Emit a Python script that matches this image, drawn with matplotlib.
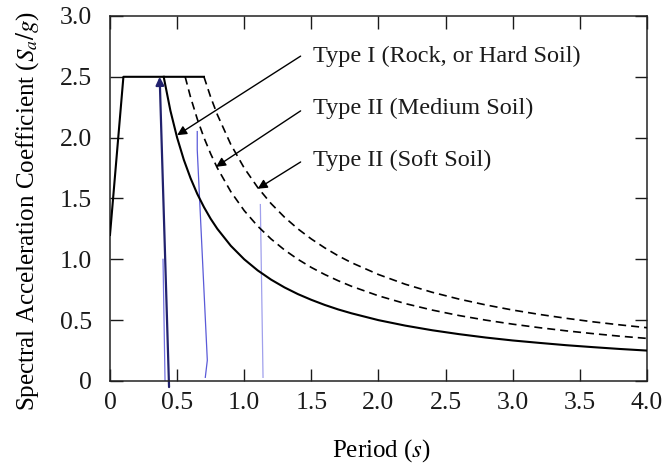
import matplotlib
matplotlib.use("Agg")
import matplotlib.pyplot as plt

# --- data ---
# shared rising branch + plateau (all three soil types overlap here)
plateau_T = [0.0, 0.1, 0.7]
plateau_y = [1.2, 2.5, 2.5]

# Type I (rock / hard soil), descending branch
t1_T = [0.4, 0.45, 0.5, 0.55, 0.6, 0.65, 0.7, 0.75, 0.8, 0.9, 1.0, 1.1, 1.2, 1.3, 1.4,
        1.5, 1.6, 1.7, 1.8, 2.0, 2.2, 2.4, 2.6, 2.8, 3.0, 3.2, 3.4, 3.6, 3.8, 4.0]
t1_y = [2.5, 2.222, 2.0, 1.818, 1.667, 1.538, 1.429, 1.333, 1.25, 1.111, 1.0, 0.909,
        0.833, 0.769, 0.714, 0.667, 0.625, 0.588, 0.556, 0.5, 0.455, 0.417, 0.385,
        0.357, 0.333, 0.313, 0.294, 0.278, 0.263, 0.25]

# Type II (medium soil)
t2_T = [0.56, 0.6, 0.65, 0.7, 0.75, 0.8, 0.9, 1.0, 1.1, 1.2, 1.3, 1.4, 1.5, 1.6, 1.7,
        1.8, 2.0, 2.2, 2.4, 2.6, 2.8, 3.0, 3.2, 3.4, 3.6, 3.8, 4.0]
t2_y = [2.5, 2.333, 2.154, 2.0, 1.867, 1.75, 1.556, 1.4, 1.273, 1.167, 1.077, 1.0,
        0.933, 0.875, 0.824, 0.778, 0.7, 0.636, 0.583, 0.538, 0.5, 0.467, 0.438,
        0.412, 0.389, 0.368, 0.35]

# Type II (soft soil)
t3_T = [0.7, 0.75, 0.8, 0.9, 1.0, 1.1, 1.2, 1.3, 1.4, 1.5, 1.6, 1.7, 1.8, 2.0, 2.2,
        2.4, 2.6, 2.8, 3.0, 3.2, 3.4, 3.6, 3.8, 4.0]
t3_y = [2.5, 2.333, 2.188, 1.944, 1.75, 1.591, 1.458, 1.346, 1.25, 1.167, 1.094, 1.029,
        0.972, 0.875, 0.795, 0.729, 0.673, 0.625, 0.583, 0.547, 0.515, 0.486, 0.461,
        0.438]

labels = ["Type I (Rock, or Hard Soil)", "Type II (Medium Soil)", "Type II (Soft Soil)"]
arrow_tip = [(0.5, 2.02), (0.79, 1.76), (1.1, 1.58)]
arrow_tail = [(1.42, 2.67), (1.42, 2.22), (1.42, 1.80)]
label_y = [2.67, 2.24, 1.81]

# hand-drawn pen marks on the scan
pen_dark_T = [0.44, 0.37]
pen_dark_y = [-0.05, 2.5]
pen_thin_T = [0.395, 0.41]
pen_thin_y = [1.0, 0.0]
pen_mid_T = [0.65, 0.65, 0.725, 0.71]
pen_mid_y = [2.05, 1.9, 0.17, 0.03]
pen_light_T = [1.12, 1.14]
pen_light_y = [1.45, 0.03]

x_ticks = [0, 0.5, 1.0, 1.5, 2.0, 2.5, 3.0, 3.5, 4.0]
x_ticklabels = ["0", "0.5", "1.0", "1.5", "2.0", "2.5", "3.0", "3.5", "4.0"]
y_ticks = [0, 0.5, 1.0, 1.5, 2.0, 2.5, 3.0]
y_ticklabels = ["0", "0.5", "1.0", "1.5", "2.0", "2.5", "3.0"]

plt.rcParams["font.family"] = ["Liberation Serif", "DejaVu Serif"]
plt.rcParams["mathtext.fontset"] = "stix"

fig = plt.figure(figsize=(6.69, 4.71), dpi=100)
ax = fig.add_axes([0.1644, 0.1911, 0.8027, 0.775])

# pen marks first so the curves sit on top
ax.plot(pen_thin_T, pen_thin_y, color="#7070e0", lw=0.9, zorder=1)
ax.plot(pen_mid_T, pen_mid_y, color="#5a5ad8", lw=0.9, zorder=1)
ax.plot(pen_light_T, pen_light_y, color="#a0a0ec", lw=0.9, zorder=1)
ax.annotate("", xy=(pen_dark_T[1], pen_dark_y[1]), xytext=(pen_dark_T[0], pen_dark_y[0]),
            arrowprops=dict(arrowstyle="-|>", color="#22226e", lw=1.6,
                            mutation_scale=12, shrinkA=0, shrinkB=0), zorder=1)

ax.plot(plateau_T, plateau_y, color="black", lw=1.5, zorder=3)
ax.plot(t1_T, t1_y, color="black", lw=1.5, zorder=3)
ax.plot(t2_T, t2_y, color="black", lw=1.2, linestyle=(0, (4.8, 3)), zorder=3)
ax.plot(t3_T, t3_y, color="black", lw=1.2, linestyle=(0, (4.8, 3)), zorder=3)

for lab, tip, tail, ly in zip(labels, arrow_tip, arrow_tail, label_y):
    ax.annotate("", xy=tip, xytext=tail,
                arrowprops=dict(arrowstyle="-|>", color="black", lw=1.0,
                                mutation_scale=14, shrinkA=0, shrinkB=0))
    ax.text(1.51, ly, lab, fontsize=17.5, va="center", ha="left", color="#1a1a1a")

ax.set_xlim(0, 4.0)
ax.set_ylim(0, 3.0)
ax.set_xticks(x_ticks)
ax.set_xticklabels(x_ticklabels)
ax.set_yticks(y_ticks)
ax.set_yticklabels(y_ticklabels)
ax.tick_params(direction="in", length=9, width=1.0, labelsize=18.5,
               top=True, right=True, colors="#1a1a1a")
ax.tick_params(axis="x", pad=8)
ax.tick_params(axis="y", pad=13)
for sp in ax.spines.values():
    sp.set_linewidth(1.1)
    sp.set_color("#222222")

ax.set_xlabel("Period ($s$)", fontsize=18)
ax.xaxis.set_label_coords(0.505, -0.155)
ax.set_ylabel("Spectral Acceleration Coefficient ($S_a/g$)", fontsize=18)
ax.yaxis.set_label_coords(-0.128, 0.465)

fig.savefig("out.png", dpi=100)
